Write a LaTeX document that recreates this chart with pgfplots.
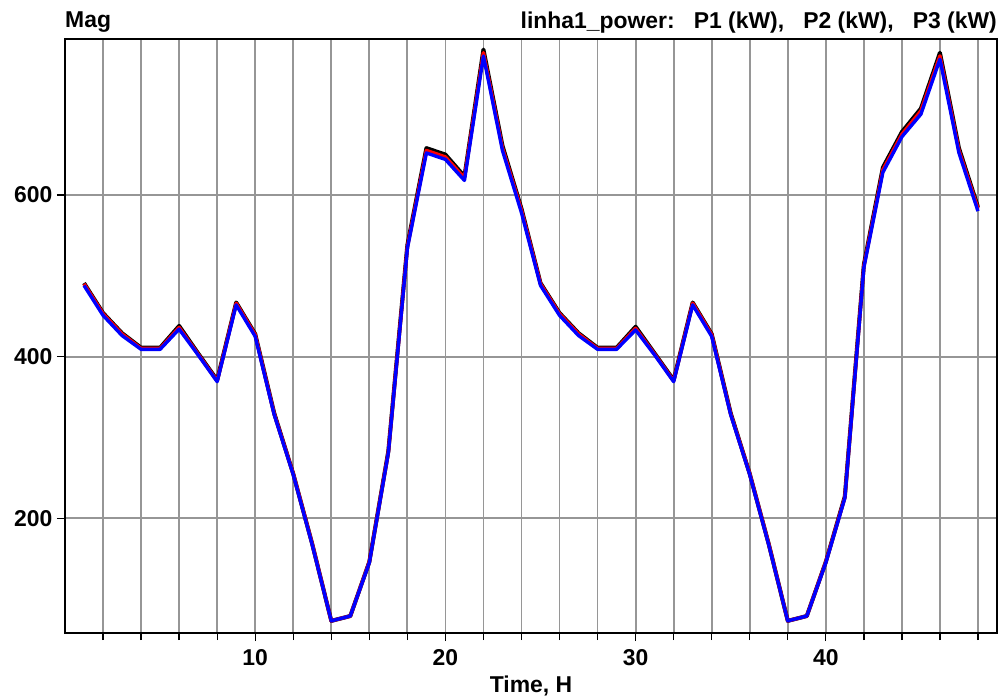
\documentclass[border=0pt]{standalone}
\usepackage{pgfplots}
\pgfplotsset{compat=1.18}
\usepackage{fontspec}
\setmainfont{Liberation Sans}
\definecolor{gridgray}{RGB}{150,150,150}
\begin{document}
\begin{tikzpicture}
\begin{axis}[
  name=ax,
  at={(0,0)}, anchor=south west,
  scale only axis,
  width=932bp, height=594bp,
  xmin=0, xmax=49, ymin=58, ymax=793,
  xtick={10,20,30,40},
  minor xtick={2,4,6,8,12,14,16,18,22,24,26,28,32,34,36,38,42,44,46,48},
  ytick={200,400,600},
  grid=both,
  major grid style={gridgray, line width=1.8bp},
  minor grid style={gridgray, line width=1.8bp},
  tick align=outside,
  major tick length=8bp, minor tick length=7bp,
  tick style={black, line width=1.3bp},
  axis line style={black, line width=1.5bp},
  xtick pos=bottom, ytick pos=left,
  /pgf/number format/assume math mode=true,
  ticklabel style={font=\fontsize{23}{26}\selectfont\bfseries},
  xticklabel style={yshift=-5bp},
  yticklabel style={xshift=-1bp},
  xlabel={Time, H},
  xlabel style={font=\fontsize{23}{26}\selectfont\bfseries, yshift=-3bp},
  clip=true,
]
\addplot[black, line width=4bp, line join=round] coordinates {
(1,491)(2,454)(3,429)(4,411)(5,411)(6,438)(7,404)(8,371)(9,467)(10,428)
(11,330)(12,255)(13,168)(14,73)(15,79)(16,146)(17,283)(18,538)(19,658)(20,650)
(21,623)(22,780)(23,661)(24,583)(25,491)(26,454)(27,429)(28,411)(29,411)(30,437)
(31,404)(32,371)(33,467)(34,428)(35,330)(36,255)(37,168)(38,73)(39,79)(40,146)
(41,227)(42,514)(43,634)(44,678)(45,707)(46,776)(47,658)(48,585)};
\addplot[red, line width=3.6bp, line join=round] coordinates {
(1,490)(2,453)(3,428)(4,410)(5,410)(6,436)(7,403)(8,370)(9,466)(10,427)
(11,329)(12,255)(13,168)(14,73)(15,79)(16,146)(17,282)(18,536)(19,655)(20,647)
(21,621)(22,776)(23,658)(24,581)(25,490)(26,453)(27,428)(28,410)(29,410)(30,435)
(31,403)(32,370)(33,466)(34,427)(35,329)(36,255)(37,168)(38,73)(39,79)(40,146)
(41,226)(42,512)(43,631)(44,675)(45,704)(46,772)(47,655)(48,583)};
\addplot[blue, line width=3.4bp, line join=round] coordinates {
(1,488)(2,451)(3,426)(4,409)(5,409)(6,434)(7,402)(8,369)(9,464)(10,425)
(11,328)(12,254)(13,167)(14,73)(15,79)(16,145)(17,281)(18,534)(19,652)(20,644)
(21,618)(22,772)(23,655)(24,578)(25,488)(26,451)(27,426)(28,409)(29,409)(30,433)
(31,402)(32,369)(33,464)(34,425)(35,328)(36,254)(37,167)(38,73)(39,79)(40,145)
(41,225)(42,510)(43,628)(44,672)(45,700)(46,768)(47,652)(48,580)};
\end{axis}
\node[anchor=south west, inner sep=0pt, font=\fontsize{23}{26}\selectfont\bfseries]
  at ([yshift=6bp]ax.north west) {Mag};
\node[anchor=south east, inner sep=0pt, font=\fontsize{23}{26}\selectfont\bfseries]
  at ([yshift=6bp]ax.north east) {linha1\_power:\ \ \ P1 (kW),\ \ \ P2 (kW),\ \ \ P3 (kW)};
\pgfresetboundingbox
\useasboundingbox (-65bp,-65bp) rectangle (934bp,633bp);
\end{tikzpicture}
\end{document}
